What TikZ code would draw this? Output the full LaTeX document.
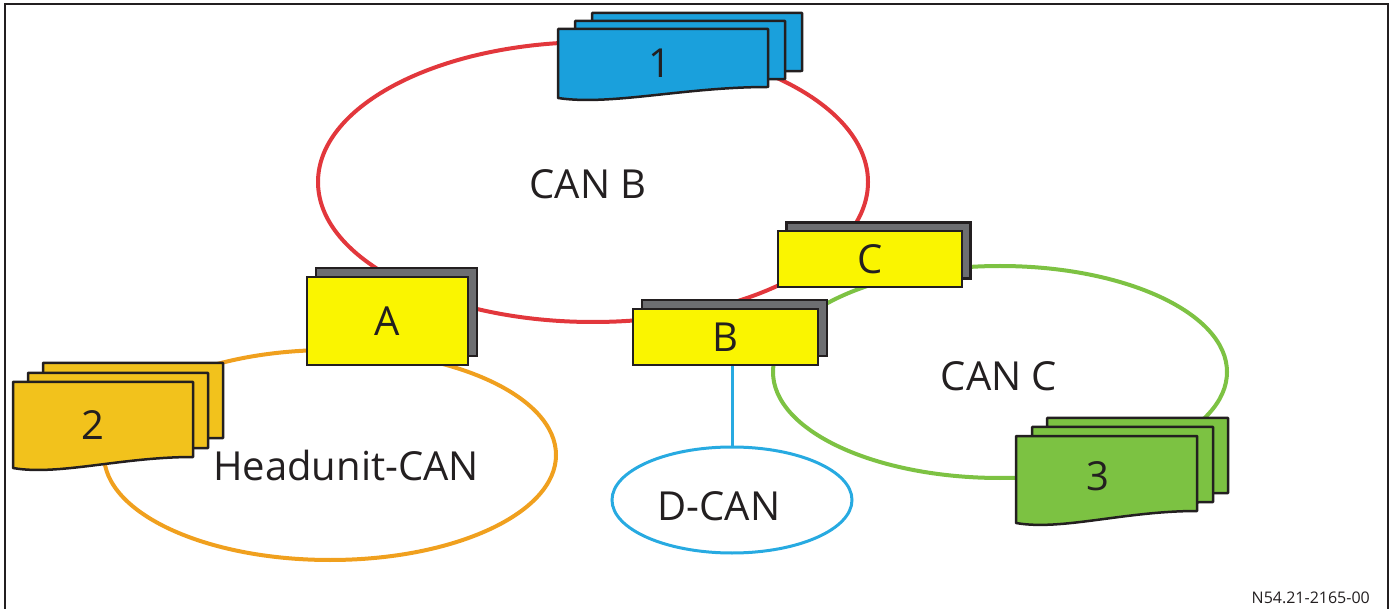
\documentclass[tikz,border=0pt]{standalone}
\usepackage{fontspec}
\setmainfont{Open Sans}
\usetikzlibrary{shapes.geometric}
\definecolor{busred}{RGB}{226,55,60}
\definecolor{busorange}{RGB}{240,160,30}
\definecolor{busgreen}{RGB}{125,194,67}
\definecolor{buscyan}{RGB}{39,170,225}
\definecolor{docblue}{RGB}{26,160,220}
\definecolor{docorange}{RGB}{242,194,28}
\definecolor{docgreen}{RGB}{124,194,66}
\definecolor{boxyellow}{RGB}{250,245,0}
\definecolor{boxgray}{RGB}{109,110,113}
\definecolor{inkblack}{RGB}{35,31,32}
\newcommand\DocSheet[6]{%
  \filldraw[sheet, fill=#6] (#1,#2) -- ++(#3,0) -- ++(0,#5)
    .. controls +(-0.4*#3,0) and +(0.25*#3,8) .. (#1,#2+#4) -- cycle;}
\begin{document}
\begin{tikzpicture}[x=1pt,y=-1pt,
  bus/.style={ellipse, inner sep=0pt, line width=4pt},
  sheet/.style={draw=inkblack, line width=2.5pt, line join=round},
  lbl/.style={text=inkblack, font=\fontsize{40}{48}\selectfont, inner sep=0pt},
  backbox/.style={rectangle, draw=inkblack, fill=boxgray, line width=2.5pt, inner sep=0pt},
  frontbox/.style={rectangle, draw=inkblack, fill=boxyellow, line width=2.5pt, inner sep=0pt,
    text=inkblack, font=\fontsize{40}{48}\selectfont}]
\useasboundingbox (0,0) rectangle (1395,609);
\draw[line width=2pt, inkblack] (5,609) -- (5,4) -- (1388,4) -- (1388,609);

% bus rings
\node[bus, draw=busred, minimum width=550pt, minimum height=280pt] (canb) at (593,182) {};
\node[bus, draw=busorange, minimum width=452pt, minimum height=210pt] (hucan) at (330,455) {};
\node[bus, draw=busgreen, minimum width=454pt, minimum height=212pt] (canc) at (1000,372) {};
\node[bus, draw=buscyan, line width=3pt, minimum width=240pt, minimum height=106pt] (dcan) at (732,500) {};

% ring labels
\node[lbl] (tcanb) at (588,184) {CAN B};
\node[lbl] (thu) at (346,465) {Headunit-CAN};
\node[lbl] (tcanc) at (999,376) {CAN C};
\node[lbl] (tdcan) at (719,506) {D-CAN};

% control unit stacks
\DocSheet{592}{13}{210}{69}{58}{docblue}
\DocSheet{575}{21}{210}{69}{58}{docblue}
\DocSheet{558}{29}{210}{69}{58}{docblue}
\node[lbl] (n1) at (660,63) {1};

\DocSheet{43}{363}{180}{86}{75}{docorange}
\DocSheet{28}{373}{180}{86}{75}{docorange}
\DocSheet{13}{382}{180}{86}{75}{docorange}
\node[lbl] (n2) at (93,425) {2};

\DocSheet{1047}{418}{181}{87}{75}{docgreen}
\DocSheet{1032}{427}{181}{87}{75}{docgreen}
\DocSheet{1016}{436}{181}{87}{75}{docgreen}
\node[lbl] (n3) at (1098,476) {3};

% gateways
\node[backbox, minimum width=161pt, minimum height=88pt] (Ab) at (396.5,312) {};
\node[frontbox, minimum width=161pt, minimum height=88pt] (A) at (387.5,321) {A};
\node[backbox, minimum width=185pt, minimum height=56pt] (Bb) at (734.5,328) {};
\node[frontbox, minimum width=185pt, minimum height=56pt] (B) at (725.5,337) {B};
\node[backbox, minimum width=184pt, minimum height=56pt] (Cb) at (878.5,250.5) {};
\node[frontbox, minimum width=184pt, minimum height=56pt] (C) at (870,259) {C};

\draw[buscyan, line width=3pt] (dcan.north |- B.south) -- (dcan.north);

\node[text=inkblack, font=\fontsize{16}{19}\selectfont, inner sep=0pt, anchor=east] (ref) at (1370,597.5) {N54.21-2165-00};
\end{tikzpicture}
\end{document}
